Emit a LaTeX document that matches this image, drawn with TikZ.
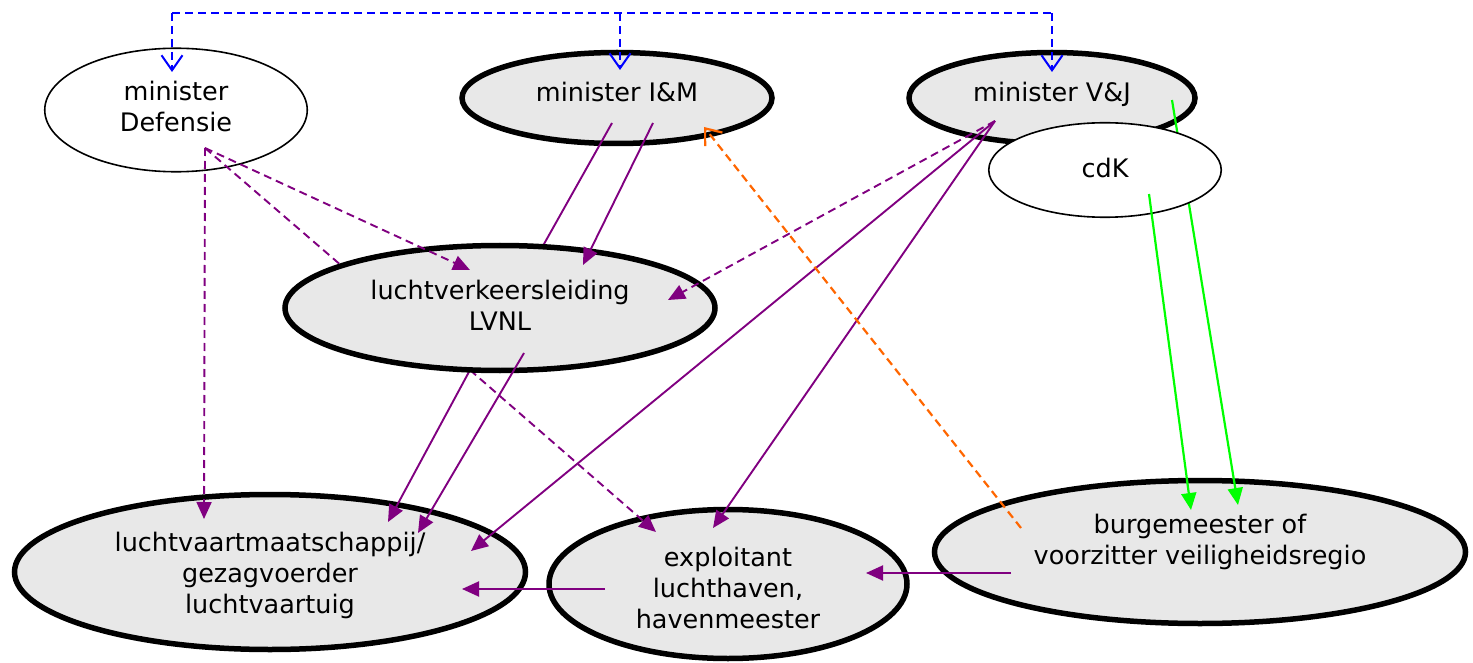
\documentclass[tikz,border=0pt]{standalone}
\usepackage{fontspec}
\setmainfont{DejaVu Sans}
\usetikzlibrary{shapes.geometric,arrows.meta,calc}
\pgfdeclarelayer{nodesA}
\pgfdeclarelayer{edgesA}
\pgfdeclarelayer{nodesB}
\pgfsetlayers{nodesA,edgesA,nodesB,main}
\definecolor{pur}{RGB}{128,0,128}
\definecolor{org}{RGB}{255,102,0}
\definecolor{grn}{RGB}{0,255,0}
\definecolor{blu}{RGB}{0,0,255}
\definecolor{fillg}{RGB}{232,232,232}
\begin{document}
\begin{tikzpicture}[x=1pt,y=-1pt,
  thickell/.style={ellipse,draw=black,line width=5.5pt,fill=fillg,inner sep=0pt},
  thinell/.style={ellipse,draw=black,line width=1.6pt,fill=white,inner sep=0pt},
  lbl/.style={align=center,font=\fontsize{25.5}{31}\selectfont,inner sep=0pt},
  pl/.style={draw=pur,line width=1.9pt},
  pa/.style={pl,-{Triangle[length=17pt,width=15pt]}},
  pda/.style={pa,dash pattern=on 8pt off 5pt},
  pd/.style={pl,dash pattern=on 8pt off 5pt},
  gl/.style={draw=grn,line width=2.2pt,-{Triangle[length=17pt,width=15pt]}},
  bl/.style={draw=blu,line width=2pt,dash pattern=on 8pt off 5pt},
  ba/.style={bl,-{Straight Barb[length=15pt,width=21pt]}},
  oa/.style={draw=org,line width=2.2pt,dash pattern=on 8pt off 5pt,-{Straight Barb[length=14pt,width=22pt]}}
]
\useasboundingbox (0,0) rectangle (1473,663);

\begin{pgfonlayer}{nodesA}
\node[thinell,minimum width=262.5pt,minimum height=123.5pt] (def) at (176,110) {};
\node[thickell,minimum width=310pt,minimum height=91pt] (im) at (617,98) {};
\node[thickell,minimum width=286pt,minimum height=91pt] (vj) at (1052,98) {};
\node[thickell,minimum width=511pt,minimum height=155pt] (lucht) at (270,572) {};
\node[thickell,minimum width=358pt,minimum height=149pt] (expl) at (728,584) {};
\node[thickell,minimum width=531pt,minimum height=143pt] (burg) at (1200,552) {};
\end{pgfonlayer}
\begin{pgfonlayer}{nodesB}
\node[thickell,minimum width=430pt,minimum height=125pt] (lvnl) at (500,308) {};
\node[thinell,minimum width=232.5pt,minimum height=94.5pt] (cdk) at (1105,170) {};
\end{pgfonlayer}

% text
\node[lbl] (defT) at ($(def)+(0,-3.5)$) {minister\\Defensie};
\node[lbl] (imT) at ($(im)+(0,-6)$) {minister I\&M};
\node[lbl] (vjT) at ($(vj)+(0,-4)$) {minister V\&J};
\node[lbl] (cdkT) at ($(cdk)+(0,-2)$) {cdK};
\node[lbl] (lvnlT) at ($(lvnl)+(0,-3)$) {luchtverkeersleiding\\LVNL};
\node[lbl] (luchtT) at ($(lucht)+(0,3)$) {luchtvaartmaatschappij/\\gezagvoerder\\luchtvaartuig};
\node[lbl] (explT) at ($(expl)+(0,4)$) {exploitant\\luchthaven,\\havenmeester};
\node[lbl] (burgT) at ($(burg)+(0,-10)$) {burgemeester of\\voorzitter veiligheidsregio};

% connector end points
\coordinate (defOut) at ($(def)+(29,38)$);
\coordinate (luchtInD) at ($(lucht)+(-66,-53)$);
\coordinate (lvnlInD) at ($(lvnl)+(-30,-38)$);
\coordinate (lvnlHideD) at ($(lvnl)+(-150,-35)$);
\coordinate (imOut1) at ($(im)+(-5,25)$);
\coordinate (imOut2) at ($(im)+(36,25)$);
\coordinate (lvnlHideI) at ($(lvnl)+(35,-48)$);
\coordinate (lvnlInI) at ($(lvnl)+(83,-43)$);
\coordinate (vjOut) at ($(vj)+(-57,23)$);
\coordinate (lvnlInV) at ($(lvnl)+(168,-8)$);
\coordinate (luchtInV) at ($(lucht)+(201,-21)$);
\coordinate (explInV) at ($(expl)+(-15,-56)$);
\coordinate (lvnlOut1) at ($(lvnl)+(-30,62)$);
\coordinate (luchtInL1) at ($(lucht)+(118,-50)$);
\coordinate (lvnlOut2) at ($(lvnl)+(24,45)$);
\coordinate (luchtInL2) at ($(lucht)+(148,-39)$);
\coordinate (explInL) at ($(expl)+(-72,-52)$);
\coordinate (explOut) at ($(expl)+(-123,5)$);
\coordinate (luchtInE) at ($(lucht)+(192,17)$);
\coordinate (burgOut1) at ($(burg)+(-189,21)$);
\coordinate (explInB) at ($(expl)+(138,-11)$);
\coordinate (burgOut2) at ($(burg)+(-179,-24)$);
\coordinate (imInB) at ($(im)+(87,29)$);
\coordinate (vjOutG) at ($(vj)+(120,2)$);
\coordinate (burgInG1) at ($(burg)+(38,-47)$);
\coordinate (cdkOut) at ($(cdk)+(44,24)$);
\coordinate (burgInG2) at ($(burg)+(-9,-42)$);
\coordinate (defTip) at ($(def)+(-4,-38)$);
\coordinate (imTip) at ($(im)+(3,-28)$);
\coordinate (vjTip) at ($(vj)+(0,-26)$);
\coordinate (barY) at (0,13);

% connectors partly hidden below LVNL and cdK
\begin{pgfonlayer}{edgesA}
\draw[pd] (defOut) -- (lvnlHideD);
\draw[pl] (imOut1) -- (lvnlHideI);
\draw[pa] (lvnlOut1) -- (luchtInL1);
\draw[pda] (lvnlOut1) -- (explInL);
\draw[gl] (vjOutG) -- (burgInG1);
\end{pgfonlayer}

% connectors on top
\draw[pda] (defOut) -- (luchtInD);
\draw[pda] (defOut) -- (lvnlInD);
\draw[pa] (imOut2) -- (lvnlInI);
\draw[pda] (vjOut) -- (lvnlInV);
\draw[pa] (vjOut) -- (luchtInV);
\draw[pa] (vjOut) -- (explInV);
\draw[pa] (lvnlOut2) -- (luchtInL2);
\draw[pa] (explOut) -- (luchtInE);
\draw[pa] (burgOut1) -- (explInB);
\draw[oa] (burgOut2) -- (imInB);
\draw[gl] (cdkOut) -- (burgInG2);

% blue dashed bar
\draw[bl] (defTip |- barY) -- (vjTip |- barY);
\draw[ba] (defTip |- barY) -- (defTip);
\draw[ba] (imTip |- barY) -- (imTip);
\draw[ba] (vjTip |- barY) -- (vjTip);
\end{tikzpicture}
\end{document}
